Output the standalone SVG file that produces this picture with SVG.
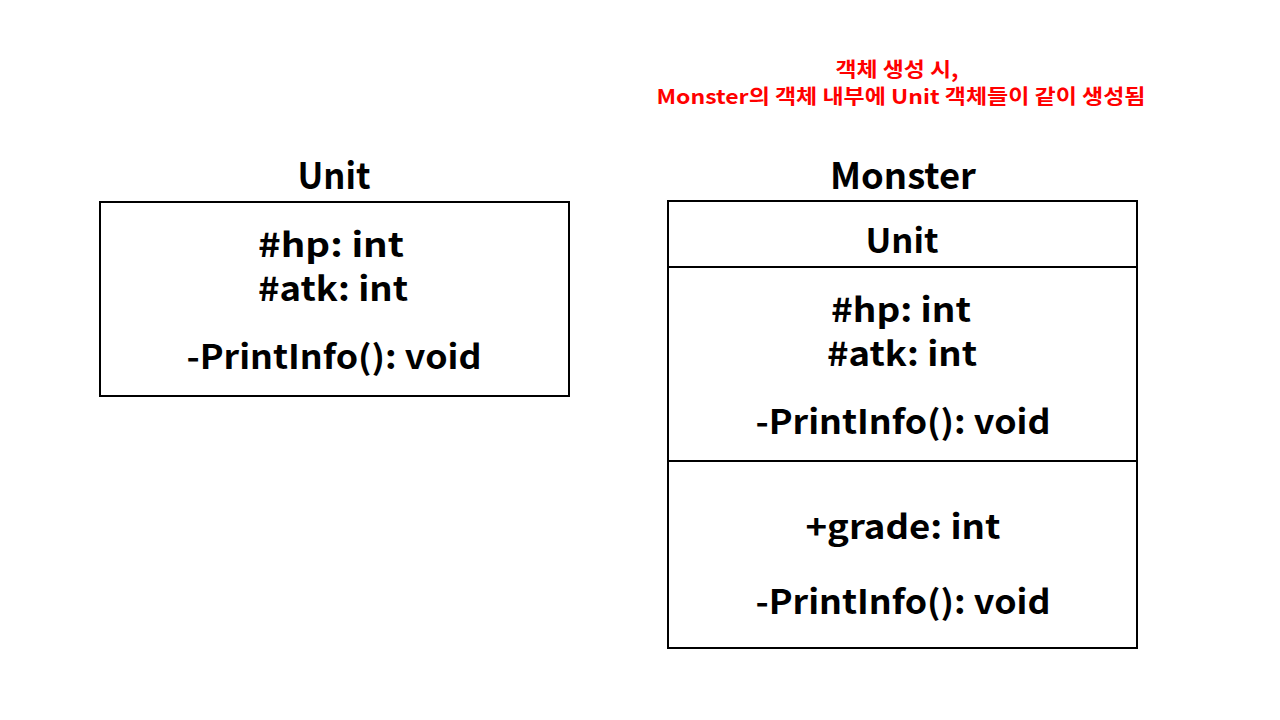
<svg xmlns="http://www.w3.org/2000/svg" width="1280" height="720" viewBox="0 0 1280 720">
<style>
.t{font-family:"Noto Sans CJK KR","Noto Sans",sans-serif;font-weight:bold;text-anchor:middle;fill:#000}
.title{font-size:36px}
.m{font-size:33px}
.note{font-size:20px;fill:#ff0000}
.box{fill:#fff;stroke:#000;stroke-width:2}
</style>
<rect width="1280" height="720" fill="#fff"/>
<g id="note">
<text class="t note" x="897" y="77" textLength="123" lengthAdjust="spacingAndGlyphs">객체 생성 시,</text>
<text class="t note" x="901" y="104" textLength="489" lengthAdjust="spacingAndGlyphs">Monster의 객체 내부에 Unit 객체들이 같이 생성됨</text>
</g>
<g id="unit">
<text class="t title" x="334" y="189" textLength="73" lengthAdjust="spacingAndGlyphs">Unit</text>
<rect class="box" x="100" y="202" width="469" height="194"/>
<text class="t m" x="331" y="257" textLength="146" lengthAdjust="spacingAndGlyphs">#hp: int</text>
<text class="t m" x="333" y="301" textLength="150" lengthAdjust="spacingAndGlyphs">#atk: int</text>
<text class="t m" x="334" y="369" textLength="295" lengthAdjust="spacingAndGlyphs">-PrintInfo(): void</text>
</g>
<g id="monster">
<text class="t title" x="903" y="189" textLength="146" lengthAdjust="spacingAndGlyphs">Monster</text>
<rect class="box" x="668" y="201" width="469" height="447"/>
<line x1="668" y1="267" x2="1137" y2="267" stroke="#000" stroke-width="2"/>
<line x1="668" y1="461" x2="1137" y2="461" stroke="#000" stroke-width="2"/>
<text class="t m" x="902" y="253" textLength="73" lengthAdjust="spacingAndGlyphs">Unit</text>
<text class="t m" x="901" y="322" textLength="140" lengthAdjust="spacingAndGlyphs">#hp: int</text>
<text class="t m" x="902" y="366" textLength="150" lengthAdjust="spacingAndGlyphs">#atk: int</text>
<text class="t m" x="903" y="434" textLength="295" lengthAdjust="spacingAndGlyphs">-PrintInfo(): void</text>
<text class="t m" x="903" y="539" textLength="195" lengthAdjust="spacingAndGlyphs">+grade: int</text>
<text class="t m" x="903" y="614" textLength="295" lengthAdjust="spacingAndGlyphs">-PrintInfo(): void</text>
</g>
<g id="connectors"></g>
</svg>
